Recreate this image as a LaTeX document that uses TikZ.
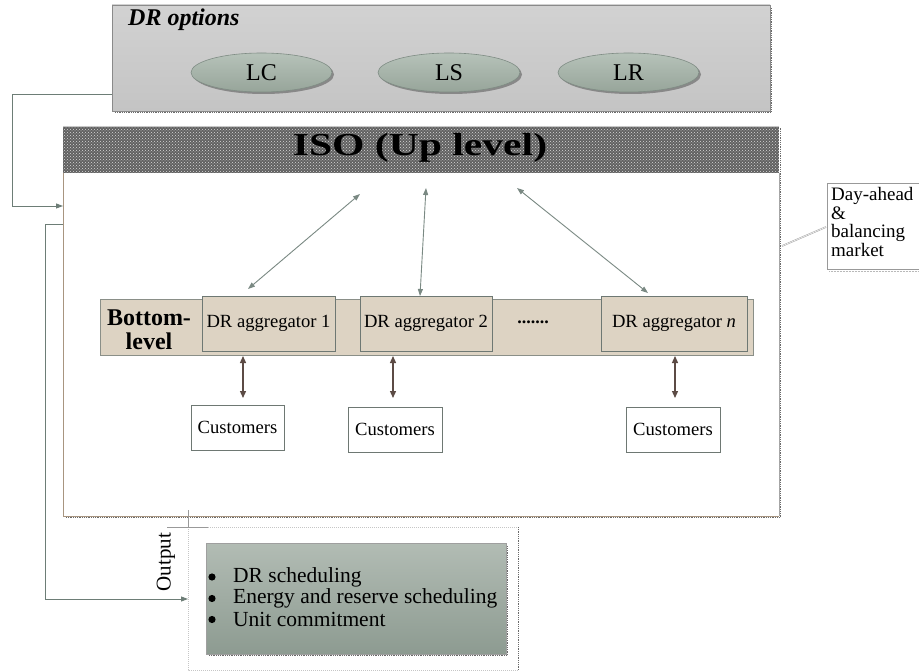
\documentclass[tikz,border=0pt]{standalone}
\usepackage{fontspec}
\setmainfont{Liberation Serif}
\usetikzlibrary{patterns,arrows.meta,shapes.geometric}
\definecolor{optTop}{HTML}{D2D2D2}
\definecolor{optBot}{HTML}{C4C4C4}
\definecolor{optLine}{HTML}{8A8A8A}
\definecolor{ellTop}{HTML}{B6C2B9}
\definecolor{ellBot}{HTML}{97A59A}
\definecolor{ellLine}{HTML}{7F8C84}
\definecolor{beige}{HTML}{DDD3C3}
\definecolor{beigeLine}{HTML}{8A8F88}
\definecolor{boxLine}{HTML}{6E7873}
\definecolor{arrGreen}{HTML}{7A8983}
\definecolor{arrBrown}{HTML}{5C4B45}
\definecolor{fbLine}{HTML}{6D7D76}
\definecolor{isoLeft}{HTML}{A89580}
\definecolor{outTop}{HTML}{B2BCB4}
\definecolor{outBot}{HTML}{8D9B91}
\definecolor{shadowC}{HTML}{6A6A6A}
\begin{document}
\begin{tikzpicture}[x=1pt,y=-1pt,
  shadowline/.style={draw=shadowC,line width=1.6pt,dash pattern=on 1pt off 0.8pt},
  ellopt/.style={ellipse,draw=ellLine,line width=0.6pt,top color=ellTop,bottom color=ellBot,
     minimum width=141pt,minimum height=39pt,inner sep=0pt,font=\fontsize{24}{26}\selectfont},
  aggbox/.style={rectangle,draw=boxLine,line width=0.7pt,fill=beige,minimum height=55pt,inner sep=0pt,
     font=\fontsize{18.6}{22}\selectfont},
  custbox/.style={rectangle,draw=boxLine,line width=0.7pt,fill=white,minimum width=93pt,minimum height=45pt,inner sep=0pt,
     font=\fontsize{18.6}{22}\selectfont},
  diagarr/.style={draw=arrGreen,line width=0.9pt,{Triangle[length=7pt,width=5pt]}-{Triangle[length=7pt,width=5pt]}},
  vertarr/.style={draw=arrBrown,line width=1.3pt,{Triangle[length=7pt,width=6pt]}-{Triangle[length=7pt,width=6pt]}},
  fbarr/.style={draw=fbLine,line width=0.9pt},
  listitem/.style={anchor=west,inner sep=0pt,font=\fontsize{21.5}{21}\selectfont},
]
\path[use as bounding box] (0,0) rectangle (919,671);

% ---------------- DR options ----------------
\draw[shadowline] (115,112) -- (771.5,112) -- (771.5,8);
\node[rectangle,draw=optLine,line width=0.6pt,top color=optTop,bottom color=optBot,
      minimum width=658pt,minimum height=106pt,inner sep=0pt] (opt) at (441,58) {};
\node[anchor=west,inner sep=0pt,font=\fontsize{24}{26}\selectfont\bfseries\itshape] (opttitle) at (128,20) {DR options};
\fill[shadowC!80] (263.5,74.5) ellipse (70.5pt and 19.5pt);
\fill[shadowC!80] (451,74.5) ellipse (71pt and 19.5pt);
\fill[shadowC!80] (630.5,74.5) ellipse (70.5pt and 19.5pt);
\node[ellopt] (lc) at (261.5,72.5) {LC};
\node[ellopt,minimum width=142pt] (ls) at (449,72.5) {LS};
\node[ellopt] (lr) at (628.5,72.5) {LR};

% ---------------- ISO box ----------------
\draw[shadowline] (66,517.5) -- (780.5,517.5) -- (780.5,128);
\node[rectangle,fill=white,minimum width=716pt,minimum height=343pt,inner sep=0pt] (isobody) at (421,344.5) {};
\draw[isoLeft,line width=0.9pt] (63,173) -- (63,516) -- (779,516);
\draw[gray!70,line width=0.7pt] (779,173) -- (779,516);
\fill[black!62] (63,126) rectangle (779,173);
\fill[pattern=crosshatch dots,pattern color=gray!30] (63,126) rectangle (779,173);
\draw[gray!45,line width=0.8pt] (63,126) -- (779,126);
\node[inner sep=0pt,font=\fontsize{32}{34}\selectfont\bfseries] (isotitle) at (420,148) {\scalebox{1.3}[1]{ISO (Up level)}};

% ---------------- Bottom level ----------------
\node[rectangle,draw=beigeLine,line width=0.7pt,fill=beige,minimum width=653pt,minimum height=56pt,inner sep=0pt] (bar) at (426.5,327) {};
\node[align=center,inner sep=0pt,font=\fontsize{24}{24}\selectfont\bfseries] (bottomlbl) at (149,330) {Bottom-\\level};
\node[aggbox,minimum width=133pt] (a1) at (268.5,323.5) {DR aggregator 1};
\node[aggbox,minimum width=132pt] (a2) at (426,323.5) {DR aggregator 2};
\node[aggbox,minimum width=146pt] (an) at (674,323.5) {DR aggregator \textit{n}};
\node[inner sep=0pt,font=\fontsize{18}{20}\selectfont\bfseries] (dots) at (533,322) {.......};

\node[custbox] (c1) at (237.5,427.5) {Customers};
\node[custbox,minimum width=94pt] (c2) at (395,429.5) {Customers};
\node[custbox,minimum width=94pt] (c3) at (673,429.5) {Customers};

% vertical double arrows
\coordinate (v1t) at (243,356);
\coordinate (v1b) at (243,398);
\coordinate (v2t) at (393,356);
\coordinate (v2b) at (393,398);
\coordinate (v3t) at (675,356);
\coordinate (v3b) at (675,398);
\draw[vertarr] (v1t) -- (v1b);
\draw[vertarr] (v2t) -- (v2b);
\draw[vertarr] (v3t) -- (v3b);

% diagonal double arrows
\coordinate (d1t) at (360,194);
\coordinate (d1b) at (248,289);
\coordinate (d2t) at (426,188);
\coordinate (d2b) at (420,296);
\coordinate (d3t) at (517,188);
\coordinate (d3b) at (648,293);
\draw[diagarr] (d1t) -- (d1b);
\draw[diagarr] (d2t) -- (d2b);
\draw[diagarr] (d3t) -- (d3b);

% ---------------- Day-ahead ----------------
\begin{scope}
\clip (0,0) rectangle (919,671);
\draw[gray!55,line width=0.6pt,dash pattern=on 1pt off 0.5pt] (829,271) -- (925,271);
\draw[gray!80,line width=0.6pt,fill=white] (827,183) rectangle (930,269);
\end{scope}
\node[anchor=north west,align=left,inner sep=0pt,font=\fontsize{19}{18.7}\selectfont] (dayahead) at (831,187) {Day-ahead\\\&\\balancing\\market};
\coordinate (dal) at (826,227);
\coordinate (isor) at (782,246);
\draw[gray!70,line width=1.6pt] (dal) -- (isor);
\draw[white,line width=0.5pt] (dal) -- (isor);

% ---------------- Output ----------------
\draw[gray!45,line width=0.5pt,dash pattern=on 1pt off 1pt] (188,527) -- (518,527);
\draw[gray!45,line width=0.5pt,dash pattern=on 1pt off 1pt] (188,527) -- (188,670) -- (518,670);
\draw[shadowC,line width=0.9pt,dash pattern=on 1pt off 0.8pt] (518,527) -- (518,671);
\draw[gray!80,line width=0.6pt] (188,510) -- (188,527);
\draw[gray!80,line width=0.6pt] (167,527) -- (208,527);
\node[rotate=90,inner sep=0pt,font=\fontsize{21}{22}\selectfont] (outlbl) at (166,562) {Output};
\draw[shadowline] (209,655.5) -- (507.5,655.5) -- (507.5,546);
\node[rectangle,draw=gray!75,line width=0.6pt,top color=outTop,bottom color=outBot,
      minimum width=300pt,minimum height=111pt,inner sep=0pt] (outbox) at (356,598.5) {};
\node[listitem] (o1) at (233,577) {DR scheduling};
\node[listitem] (o2) at (233,598.5) {Energy and reserve scheduling};
\node[listitem] (o3) at (233,619.5) {Unit commitment};
\fill (212,577) circle (3.6pt);
\fill (212,598.5) circle (3.6pt);
\fill (212,619.5) circle (3.6pt);

% ---------------- feedback connectors ----------------
\coordinate (fbA) at (12,94);
\coordinate (fbB) at (12,206);
\coordinate (isoIn) at (63,206);
\draw[fbarr,-{Triangle[length=7pt,width=5pt]}] (opt.west |- fbA) -- (fbA) -- (fbB) -- (isoIn);
\coordinate (fbC) at (63,224);
\coordinate (fbD) at (45,224);
\coordinate (fbE) at (45,599);
\coordinate (outIn) at (188,599);
\draw[fbarr,-{Triangle[length=7pt,width=5pt]}] (fbC) -- (fbD) -- (fbE) -- (outIn);
\end{tikzpicture}
\end{document}
